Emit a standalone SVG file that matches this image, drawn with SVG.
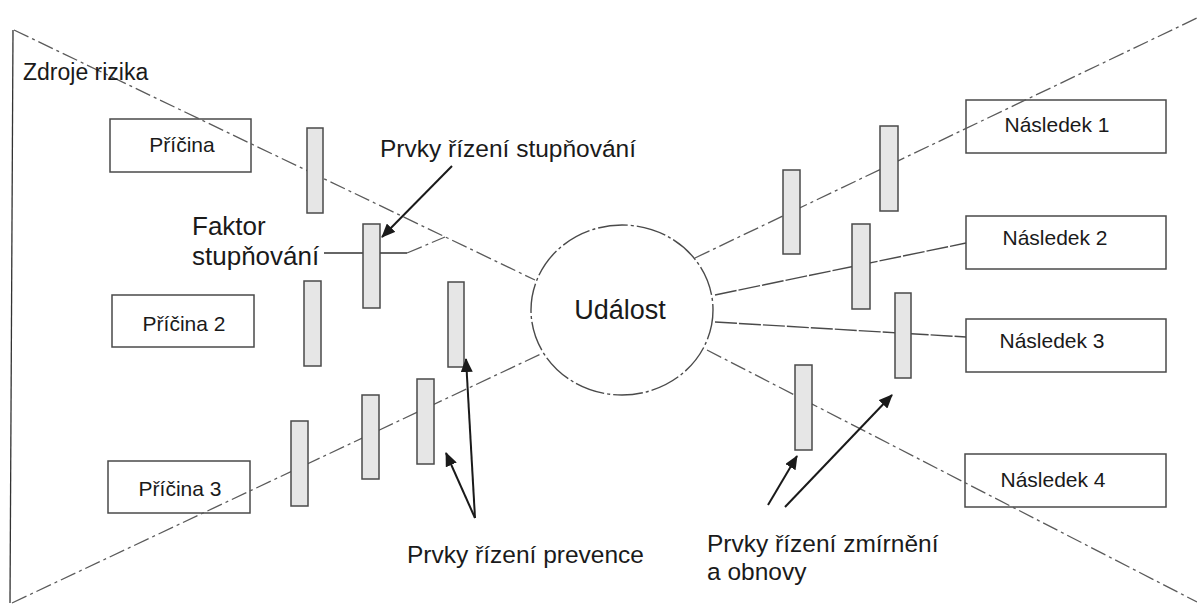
<svg xmlns="http://www.w3.org/2000/svg" width="1197" height="605" viewBox="0 0 1197 605">
<style>
text{font-family:"Liberation Sans",Arial,sans-serif;fill:#1a1a1a}
.box{fill:#fff;stroke:#4a4a4a;stroke-width:1.5}
.bar{fill:#e6e6e6;stroke:#4a4a4a;stroke-width:1.5}
.dd{fill:none;stroke:#5a5a5a;stroke-width:1.3;stroke-dasharray:16 4 3 4}
.ln{fill:none;stroke:#4a4a4a;stroke-width:1.4;stroke-dasharray:22 2}
.solid{fill:none;stroke:#333;stroke-width:1.3}
.arr{fill:none;stroke:#1a1a1a;stroke-width:2;marker-end:url(#ah)}
.lbl{font-size:21px}
.big{font-size:24.5px}
</style>
<defs>
<marker id="ah" markerUnits="userSpaceOnUse" markerWidth="14" markerHeight="12" refX="13" refY="6" orient="auto">
<path d="M0,0 L14,6 L0,12 z" fill="#1a1a1a"/>
</marker>
</defs>
<rect width="1197" height="605" fill="#fff"/>
<g id="nodes-boxes">
<g id="pricina1"><rect class="box" x="110" y="119" width="141" height="53"/><text class="lbl" x="182" y="152" text-anchor="middle">Příčina</text></g>
<g id="pricina2"><rect class="box" x="112" y="295" width="142" height="52"/><text class="lbl" x="184" y="331" text-anchor="middle">Příčina 2</text></g>
<g id="pricina3"><rect class="box" x="108" y="461" width="142" height="52"/><text class="lbl" x="180" y="496" text-anchor="middle">Příčina 3</text></g>
<g id="nasledek1"><rect class="box" x="966" y="100" width="200" height="53"/><text class="lbl" x="1057" y="132" text-anchor="middle">Následek 1</text></g>
<g id="nasledek2"><rect class="box" x="966" y="216" width="200" height="53"/><text class="lbl" x="1055" y="245" text-anchor="middle">Následek 2</text></g>
<g id="nasledek3"><rect class="box" x="966" y="319" width="200" height="53"/><text class="lbl" x="1052" y="348" text-anchor="middle">Následek 3</text></g>
<g id="nasledek4"><rect class="box" x="965" y="454" width="201" height="53"/><text class="lbl" x="1053" y="487" text-anchor="middle">Následek 4</text></g>
</g>
<g id="connectors">
<line class="solid" x1="13" y1="30" x2="10" y2="603"/>
<line class="dd" x1="14" y1="30" x2="535" y2="280"/>
<line class="dd" x1="12" y1="603" x2="543" y2="353"/>
<line class="dd" x1="695" y1="258" x2="1197" y2="18"/>
<line class="dd" x1="707" y1="350" x2="1197" y2="602"/>
<line class="ln" x1="715" y1="295" x2="966" y2="243"/>
<line class="ln" x1="715" y1="322" x2="966" y2="337"/>
<line class="solid" x1="324" y1="253" x2="407" y2="253"/>
<line class="dd" x1="407" y1="253" x2="445" y2="237"/>
</g>
<g id="bars">
<rect id="barA" class="bar" x="307" y="128" width="16" height="85"/>
<rect id="barB" class="bar" x="363" y="224" width="17" height="84"/>
<rect id="barC" class="bar" x="304" y="281" width="17" height="85"/>
<rect id="barD" class="bar" x="291" y="421" width="17" height="85"/>
<rect id="barE" class="bar" x="362" y="395" width="17" height="84"/>
<rect id="barF" class="bar" x="448" y="282" width="16" height="85"/>
<rect id="barG" class="bar" x="417" y="379" width="17" height="85"/>
<rect id="barH" class="bar" x="880" y="126" width="18" height="85"/>
<rect id="barI" class="bar" x="783" y="170" width="17" height="84"/>
<rect id="barJ" class="bar" x="852" y="224" width="18" height="85"/>
<rect id="barK" class="bar" x="895" y="293" width="16" height="85"/>
<rect id="barL" class="bar" x="795" y="365" width="17" height="85"/>
</g>
<g id="udalost">
<ellipse cx="622" cy="310" rx="91" ry="85" fill="#fff" stroke="#4a4a4a" stroke-width="1.4" stroke-dasharray="30 3 3 3"/>
<text x="620" y="319" font-size="27" text-anchor="middle">Událost</text>
</g>
<g id="arrows">
<line class="arr" x1="452" y1="166" x2="382" y2="237"/>
<line class="arr" x1="475" y1="518" x2="466" y2="359"/>
<line class="arr" x1="475" y1="518" x2="446" y2="453"/>
<line class="arr" x1="768" y1="505" x2="797" y2="456"/>
<line class="arr" x1="785" y1="507" x2="892" y2="395"/>
</g>
<g id="labels">
<text x="23" y="80" font-size="23">Zdroje rizika</text>
<text x="192" y="235" font-size="26">Faktor</text>
<text x="192" y="265" font-size="26">stupňování</text>
<text class="big" x="380" y="157">Prvky řízení stupňování</text>
<text class="big" x="407" y="563">Prvky řízení prevence</text>
<text class="big" x="707" y="552">Prvky řízení zmírnění</text>
<text class="big" x="707" y="580">a obnovy</text>
</g>
</svg>
